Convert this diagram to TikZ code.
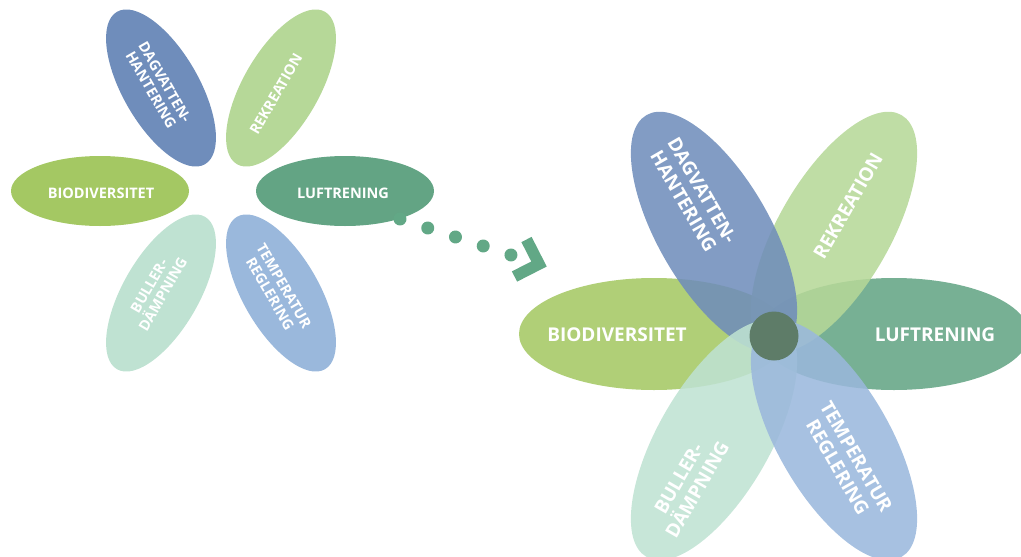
\documentclass[tikz,border=0pt]{standalone}
\usepackage{fontspec}
\setmainfont{Open Sans}
\usetikzlibrary{shapes.geometric}
\definecolor{cDag}{HTML}{6F8DBB}
\definecolor{cRek}{HTML}{B6D898}
\definecolor{cBio}{HTML}{A4C863}
\definecolor{cLuft}{HTML}{63A484}
\definecolor{cBul}{HTML}{BFE2D2}
\definecolor{cTem}{HTML}{9AB8DC}
\definecolor{cCore}{HTML}{5E7C68}
\definecolor{cDot}{HTML}{62A886}
\begin{document}
\begin{tikzpicture}[x=1pt,y=-1pt,
  petal/.style={ellipse, inner sep=0pt, draw=none},
  smallh/.style={petal, minimum width=178pt, minimum height=70pt},
  smallt/.style={petal, minimum width=176pt, minimum height=76pt},
  bigpetal/.style={petal, minimum width=270pt, minimum height=112pt, fill opacity=0.87},
  lblS/.style={text=white, align=center, inner sep=0pt,
    font=\bfseries\fontsize{14.5}{16}\selectfont},
  lblB/.style={text=white, align=center, inner sep=0pt,
    font=\bfseries\fontsize{19}{21.5}\selectfont},
  dotline/.style={draw=cDot, line width=13pt, line cap=round,
    dash pattern=on 0.01pt off 29.15pt},
  chevron/.style={draw=cDot, line width=11.5pt, line join=miter, line cap=butt}]
\useasboundingbox (0,0) rectangle (1021,557);
\begin{scope}
\clip (0,0) rectangle (1021,557);
% ---------- small flower ----------
\node[smallt, fill=cDag, rotate=-60] (sDag) at (161,88) {};
\node[smallt, fill=cRek, rotate=60] (sRek) at (281,88) {};
\node[smallh, fill=cBio] (sBio) at (100,191) {};
\node[smallh, fill=cLuft] (sLuft) at (345,191) {};
\node[smallt, fill=cBul, rotate=60] (sBul) at (161,293) {};
\node[smallt, fill=cTem, rotate=-60] (sTem) at (281,293) {};
\node[lblS, rotate=-60] (tsDag) at (158,86) {DAGVATTEN-\\HANTERING};
\node[lblS, rotate=60] (tsRek) at (276,94) {REKREATION};
\node[lblS] (tsBio) at (101,193) {BIODIVERSITET};
\node[lblS] (tsLuft) at (343,193) {LUFTRENING};
\node[lblS, rotate=60] (tsBul) at (156,290) {BULLER-\\DÄMPNING};
\node[lblS, rotate=-60] (tsTem) at (277,290) {TEMPERATUR\\REGLERING};
% ---------- connector ----------
\coordinate (dStart) at (400,219);
\coordinate (dEnd) at (511,255);
\draw[dotline] (dStart) -- (dEnd);
\coordinate (cA) at (526.5,239.5);
\coordinate (cTip) at (539,264);
\coordinate (cB) at (514.5,276.5);
\draw[chevron] (cA) -- (cTip) -- (cB);
% ---------- big flower ----------
\coordinate (bC) at (774,336);
\node[bigpetal, fill=cBio] (bBio) at (654,334) {};
\node[bigpetal, fill=cLuft] (bLuft) at (894,334) {};
\node[bigpetal, fill=cRek, rotate=60] (bRek) at (834,232) {};
\node[bigpetal, fill=cDag, rotate=-60] (bDag) at (714,232) {};
\node[bigpetal, fill=cBul, rotate=60] (bBul) at (714,440) {};
\node[bigpetal, fill=cTem, rotate=-60] (bTem) at (834,440) {};
\node[circle, fill=cCore, minimum size=49pt, inner sep=0pt] (bCore) at (bC) {};
\node[lblB, rotate=-60] (tbDag) at (693,196) {DAGVATTEN-\\HANTERING};
\node[lblB, rotate=60] (tbRek) at (848,206) {REKREATION};
\node[lblB] (tbBio) at (617,335) {BIODIVERSITET};
\node[lblB] (tbLuft) at (935,335) {LUFTRENING};
\node[lblB, rotate=60] (tbBul) at (688,484) {BULLER-\\DÄMPNING};
\node[lblB, rotate=-60] (tbTem) at (847,462) {TEMPERATUR\\REGLERING};
\end{scope}
\end{tikzpicture}
\end{document}
